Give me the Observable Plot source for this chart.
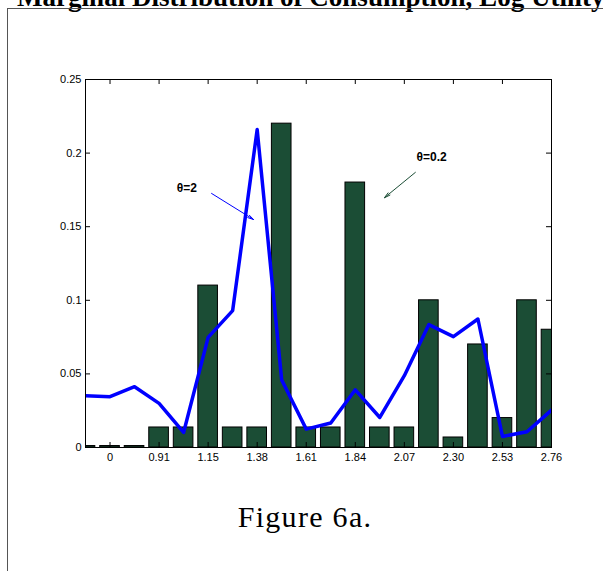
<!DOCTYPE html>
<html><head><meta charset="utf-8">
<script src="https://cdn.jsdelivr.net/npm/d3@7"></script>
<script src="https://cdn.jsdelivr.net/npm/@observablehq/plot@0.6"></script>
<style>
html,body{margin:0;padding:0;background:#fff;}
#wrap{position:relative;width:603px;height:571px;overflow:hidden;background:#fff;}
#frame{position:absolute;left:7px;top:8px;width:800px;height:800px;border:1px solid #555;box-sizing:border-box;z-index:3;pointer-events:none;}
#title{position:absolute;left:17px;white-space:nowrap;font-family:"Liberation Serif",serif;font-weight:bold;color:#000;z-index:2;}
#chart{position:absolute;left:0;top:0;z-index:1;}
#caption{position:absolute;left:0;width:610px;top:502px;text-align:center;font-family:"Liberation Serif",serif;font-size:30px;line-height:30px;letter-spacing:1.3px;color:#000;z-index:2;}
</style>
</head><body>
<div id="wrap">
  <div id="title">Marginal Distribution of Consumption, Log Utility</div>
  <div id="chart"></div>
  <div id="frame"></div>
  <div id="caption">Figure 6a.</div>
</div>
<script>
// θ = 0.2 : bar heights (one per bin)
const barValues = [0.001, 0.001, 0.001, 0.0136, 0.0136, 0.11, 0.0136, 0.0136, 0.22, 0.0136,
                   0.0136, 0.18, 0.0136, 0.0136, 0.10, 0.0068, 0.07, 0.02, 0.10, 0.08];
// θ = 2 : line values (one per bin)
const lineValues = [0.0352, 0.0345, 0.0413, 0.030, 0.0102, 0.0748, 0.093, 0.216, 0.0458, 0.0125,
                    0.0166, 0.0392, 0.0204, 0.0488, 0.0835, 0.0753, 0.0873, 0.0075, 0.0107, 0.0254];
// x tick labels (every other bin, starting at bin 1)
const xTickLabels = ["0", "0.91", "1.15", "1.38", "1.61", "1.84", "2.07", "2.30", "2.53", "2.76"];
const yTickValues = [0, 0.05, 0.1, 0.15, 0.2, 0.25];
// annotations (in data coordinates: bin index, probability)
const labelTexts = ["θ=2", "θ=0.2"];
const labelX = [3.72, 13.5];
const labelY = [0.176, 0.197];
const arrowFrom = [[5.14, 0.1726], [13.45, 0.1869]];
const arrowTo = [[6.85, 0.1549], [12.19, 0.1697]];
const arrowColors = ["#0000ff", "#1b4d35"];

const bars = barValues.map((v, i) => ({i, v}));
const line = lineValues.map((v, i) => ({i, v}));
const xTicks = xTickLabels.map((_, k) => 2 * k + 1);
const labels = labelTexts.map((t, k) => ({t, x: labelX[k], y: labelY[k]}));
const arrows = arrowFrom.map((a, k) => ({x1: a[0], y1: a[1], x2: arrowTo[k][0], y2: arrowTo[k][1], c: arrowColors[k]}));

const W = 603, H = 480, mL = 85, mR = 52, mT = 79, mB = 33;
const plotW = W - mL - mR, plotH = H - mT - mB, tk = 5;

const chart = Plot.plot({
  width: W, height: H,
  marginLeft: mL, marginRight: mR, marginTop: mT, marginBottom: mB,
  style: {background: "transparent", fontFamily: "'Liberation Sans', Arial, sans-serif", fontSize: "11px", color: "#000"},
  x: {domain: [0, 19]},
  y: {domain: [0, 0.25]},
  marks: [
    Plot.rect(bars, {x1: d => d.i - 0.4, x2: d => d.i + 0.4, y1: 0, y2: "v", fill: "#1b4d35", stroke: "#000", strokeWidth: 1, clip: true}),
    Plot.line(line, {x: "i", y: "v", stroke: "#0000ff", strokeWidth: 3.5, clip: true}),
    Plot.frame({stroke: "#000", strokeWidth: 1}),
    Plot.tickX(xTicks, {x: d => d, insetTop: plotH - tk, stroke: "#000"}),
    Plot.tickX(xTicks, {x: d => d, insetBottom: plotH - tk, stroke: "#000"}),
    Plot.tickY(yTickValues, {y: d => d, insetRight: plotW - tk, stroke: "#000"}),
    Plot.tickY(yTickValues, {y: d => d, insetLeft: plotW - tk, stroke: "#000"}),
    Plot.axisX({ticks: xTicks, tickSize: 0, tickPadding: 6, tickFormat: d => xTickLabels[(d - 1) / 2], label: null}),
    Plot.axisY({ticks: yTickValues, tickSize: 0, tickPadding: 4, tickFormat: d => String(d), label: null}),
    Plot.text(labels, {x: "x", y: "y", text: "t", textAnchor: "start", fontWeight: "bold", fontSize: 12, fill: "#000"}),
    Plot.arrow(arrows, {x1: "x1", y1: "y1", x2: "x2", y2: "y2", stroke: "c", strokeWidth: 1, headLength: 9, headAngle: 28})
  ]
});
document.getElementById("chart").appendChild(chart);

// fit title width
const title = document.getElementById("title");
const ctx = document.createElement("canvas").getContext("2d");
let fs = 20;
ctx.font = `bold ${fs}px "Liberation Serif"`;
const w = ctx.measureText(title.textContent).width;
fs = fs * 588 / w;
title.style.fontSize = fs + "px";
title.style.lineHeight = fs + "px";
title.style.top = (6 - 0.8165 * fs) + "px";
</script>
</body></html>
